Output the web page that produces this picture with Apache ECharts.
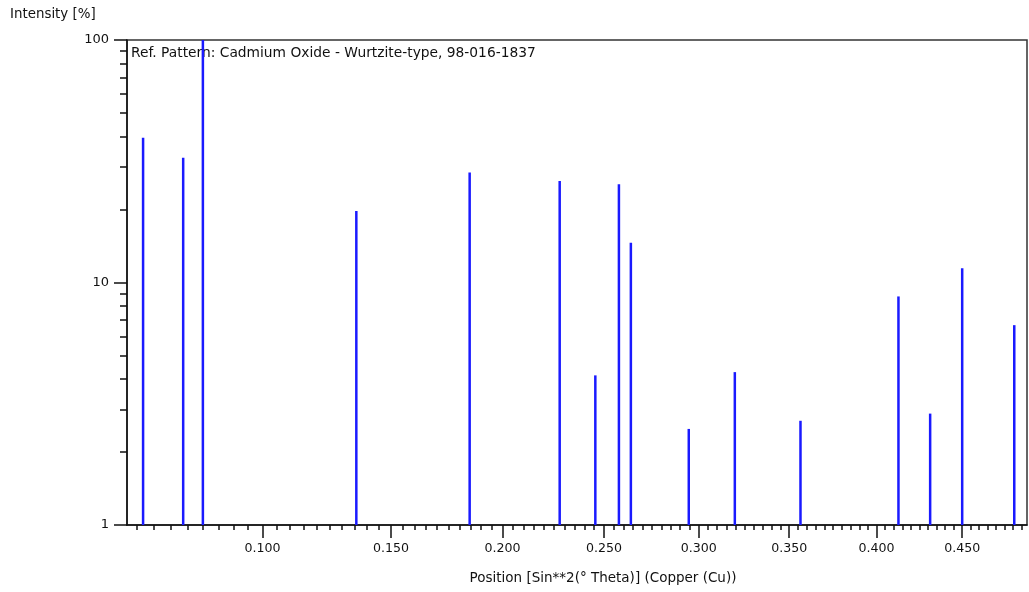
<!DOCTYPE html>
<html>
<head>
<meta charset="utf-8">
<script src="https://cdn.jsdelivr.net/npm/echarts@6/dist/echarts.min.js"></script>
<style>
html,body{margin:0;padding:0;background:#fff;}
#chart{width:1029px;height:592px;}
</style>
</head>
<body>
<div id="chart"></div>
<script>
// Peak positions (sin^2 theta) and relative intensities (%)
const peakPositions = [0.0618, 0.0737, 0.0799, 0.1357, 0.1847, 0.2277, 0.2456, 0.2577, 0.2639, 0.2946, 0.3197, 0.3564, 0.4127, 0.4312, 0.4500, 0.4807];
const peakIntensities = [39.5, 32.7, 100, 19.7, 28.4, 26.2, 4.14, 25.4, 14.6, 2.49, 4.27, 2.69, 8.76, 2.88, 11.45, 6.67];

// X axis tick positions (sin^2 theta); the axis itself is linear in 2-theta
const xMajorTicks = [0.100, 0.150, 0.200, 0.250, 0.300, 0.350, 0.400, 0.450];
const xMajorLabels = ['0.100', '0.150', '0.200', '0.250', '0.300', '0.350', '0.400', '0.450'];
const xMinorTicks = [0.060, 0.065, 0.070, 0.075, 0.080, 0.085, 0.090, 0.095,
  0.105, 0.110, 0.115, 0.120, 0.125, 0.130, 0.135, 0.140, 0.145,
  0.155, 0.160, 0.165, 0.170, 0.175, 0.180, 0.185, 0.190, 0.195,
  0.205, 0.210, 0.215, 0.220, 0.225, 0.230, 0.235, 0.240, 0.245,
  0.255, 0.260, 0.265, 0.270, 0.275, 0.280, 0.285, 0.290, 0.295,
  0.305, 0.310, 0.315, 0.320, 0.325, 0.330, 0.335, 0.340, 0.345,
  0.355, 0.360, 0.365, 0.370, 0.375, 0.380, 0.385, 0.390, 0.395,
  0.405, 0.410, 0.415, 0.420, 0.425, 0.430, 0.435, 0.440, 0.445,
  0.455, 0.460, 0.465, 0.470, 0.475, 0.480, 0.485];

// Y axis (log) ticks
const yMajorTicks = [1, 10, 100];
const yMinorTicks = [2, 3, 4, 5, 6, 7, 8, 9, 20, 30, 40, 50, 60, 70, 80, 90];

const titleText = 'Ref. Pattern: Cadmium Oxide - Wurtzite-type, 98-016-1837';
const yName = 'Intensity [%]';
const xName = 'Position [Sin**2(° Theta)] (Copper (Cu))';

// sin^2(theta) -> 2theta in degrees (the axis scale)
function to2Theta(s) { return 2 * Math.asin(Math.sqrt(s)) * 180 / Math.PI; }

const X_MIN = 27.70, X_MAX = 88.65;
const FONT = 'DejaVu Sans';
const TXT = '#111';

const majorX = xMajorTicks.map(to2Theta);
const minorX = xMinorTicks.map(to2Theta);

function xLabel(v) {
  let best = 0, d = Infinity;
  majorX.forEach((m, i) => { const dd = Math.abs(m - v); if (dd < d) { d = dd; best = i; } });
  return xMajorLabels[best];
}

const chart = echarts.init(document.getElementById('chart'), null, {renderer: 'canvas'});
chart.setOption({
  animation: false,
  backgroundColor: '#fff',
  title: [
    {text: yName, left: 10, top: 8, padding: 0, z: 1,
     textStyle: {fontFamily: FONT, fontSize: 13.4, fontWeight: 'normal', color: TXT}},
    {text: titleText, left: 131, top: 46, padding: 0, z: 1,
     textStyle: {fontFamily: FONT, fontSize: 13.8, fontWeight: 'normal', color: TXT}}
  ],
  grid: {left: 127, right: 2, top: 40, bottom: 67, show: true, borderColor: '#333', borderWidth: 1.5, backgroundColor: 'transparent', containLabel: false},
  xAxis: [
    {type: 'value', min: X_MIN, max: X_MAX, position: 'bottom', gridIndex: 0,
     axisLine: {show: true, lineStyle: {color: '#111', width: 1.5}},
     axisTick: {show: true, customValues: majorX, length: 13, lineStyle: {color: '#111', width: 1.5}},
     axisLabel: {show: true, customValues: majorX, formatter: xLabel, margin: 17,
                 fontFamily: FONT, fontSize: 12.6, color: TXT},
     splitLine: {show: false},
     name: xName, nameLocation: 'middle', nameGap: 46,
     nameTextStyle: {fontFamily: FONT, fontSize: 13.5, color: TXT, padding: [0, 0, 0, 52]}},
    {type: 'value', min: X_MIN, max: X_MAX, position: 'bottom', offset: 0, gridIndex: 0,
     axisLine: {show: false},
     axisTick: {show: true, customValues: minorX, length: 5, lineStyle: {color: '#111', width: 1.5}},
     axisLabel: {show: false},
     splitLine: {show: false}}
  ],
  yAxis: [
    {type: 'log', logBase: 10, min: 1, max: 100, position: 'left', gridIndex: 0,
     axisLine: {show: true, lineStyle: {color: '#111', width: 1.5}},
     axisTick: {show: true, customValues: yMajorTicks, length: 13, lineStyle: {color: '#111', width: 1.5}},
     axisLabel: {show: true, customValues: yMajorTicks, margin: 18, fontFamily: FONT, fontSize: 13, color: TXT,
                 formatter: v => String(Math.round(v))},
     splitLine: {show: false}},
    {type: 'log', logBase: 10, min: 1, max: 100, position: 'left', offset: 0, gridIndex: 0,
     axisLine: {show: false},
     axisTick: {show: true, customValues: yMinorTicks, length: 7, lineStyle: {color: '#111', width: 1.5}},
     axisLabel: {show: false},
     splitLine: {show: false}}
  ],
  series: [{
    type: 'bar',
    xAxisIndex: 0, yAxisIndex: 0,
    barWidth: 2.5,
    z: 3,
    itemStyle: {color: '#1a1aff'},
    data: peakPositions.map((s, i) => [to2Theta(s), peakIntensities[i]])
  }]
});
</script>
</body>
</html>
